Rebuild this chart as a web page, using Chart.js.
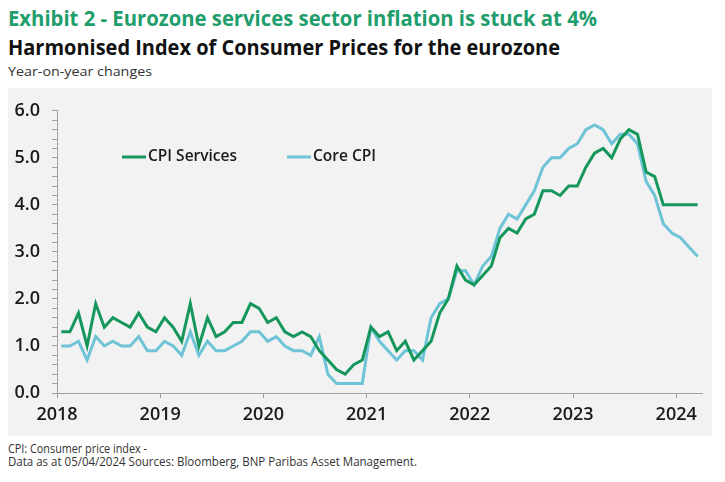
<!DOCTYPE html>
<html>
<head>
<meta charset="utf-8">
<script src="https://cdn.jsdelivr.net/npm/chart.js@4.4.1/dist/chart.umd.min.js"></script>
<style>
  html, body { margin: 0; padding: 0; background: #ffffff; }
  body { width: 725px; height: 482px; position: relative; overflow: hidden; font-family: "Open Sans", "Noto Sans", sans-serif; }
  .txt { position: absolute; left: 8px; white-space: nowrap; display: inline-block; transform-origin: 0 50%; }
  #t1 { top: 5px; font-size: 21px; line-height: 26px; font-weight: 700; color: #1f9d6c; }
  #t2 { top: 34px; font-size: 21px; line-height: 26px; font-weight: 700; color: #111111; }
  #t3 { top: 63px; font-size: 13px; line-height: 16px; color: #333333; }
  #f1 { top: 442px; font-size: 12.5px; line-height: 14px; color: #333333; }
  #f2 { top: 455px; font-size: 12.5px; line-height: 14px; color: #333333; }
  #panel { position: absolute; left: 8px; top: 88px; width: 704px; height: 348px; background: #f2f2f2; }
  #panel canvas { position: absolute; left: 0; top: 0; }
</style>
</head>
<body>
<div class="txt" id="t1" data-w="589">Exhibit 2 - Eurozone services sector inflation is stuck at 4%</div>
<div class="txt" id="t2" data-w="552">Harmonised Index of Consumer Prices for the eurozone</div>
<div class="txt" id="t3" data-w="144">Year-on-year changes</div>
<div id="panel"><canvas id="c" width="704" height="348"></canvas></div>
<div class="txt" id="f1" data-w="139">CPI: Consumer price index -</div>
<div class="txt" id="f2" data-w="409">Data as at 05/04/2024 Sources: Bloomberg, BNP Paribas Asset Management.</div>
<script>
// ---- Data (monthly, Jan 2018 - Mar 2024) ----
const months = [
  '2018-01','2018-02','2018-03','2018-04','2018-05','2018-06','2018-07','2018-08','2018-09','2018-10','2018-11','2018-12',
  '2019-01','2019-02','2019-03','2019-04','2019-05','2019-06','2019-07','2019-08','2019-09','2019-10','2019-11','2019-12',
  '2020-01','2020-02','2020-03','2020-04','2020-05','2020-06','2020-07','2020-08','2020-09','2020-10','2020-11','2020-12',
  '2021-01','2021-02','2021-03','2021-04','2021-05','2021-06','2021-07','2021-08','2021-09','2021-10','2021-11','2021-12',
  '2022-01','2022-02','2022-03','2022-04','2022-05','2022-06','2022-07','2022-08','2022-09','2022-10','2022-11','2022-12',
  '2023-01','2023-02','2023-03','2023-04','2023-05','2023-06','2023-07','2023-08','2023-09','2023-10','2023-11','2023-12',
  '2024-01','2024-02','2024-03'
];
const cpiServices = [
  1.3,1.3,1.7,1.0,1.9,1.4,1.6,1.5,1.4,1.7,1.4,1.3,
  1.6,1.4,1.1,1.9,1.0,1.6,1.2,1.3,1.5,1.5,1.9,1.8,
  1.5,1.6,1.3,1.2,1.3,1.2,0.9,0.7,0.5,0.4,0.6,0.7,
  1.4,1.2,1.3,0.9,1.1,0.7,0.9,1.1,1.7,2.0,2.7,2.4,
  2.3,2.5,2.7,3.3,3.5,3.4,3.7,3.8,4.3,4.3,4.2,4.4,
  4.4,4.8,5.1,5.2,5.0,5.4,5.6,5.5,4.7,4.6,4.0,4.0,
  4.0,4.0,4.0
];
const coreCpi = [
  1.0,1.0,1.1,0.7,1.2,1.0,1.1,1.0,1.0,1.2,0.9,0.9,
  1.1,1.0,0.8,1.3,0.8,1.1,0.9,0.9,1.0,1.1,1.3,1.3,
  1.1,1.2,1.0,0.9,0.9,0.8,1.2,0.4,0.2,0.2,0.2,0.2,
  1.4,1.1,0.9,0.7,0.9,0.9,0.7,1.6,1.9,2.0,2.6,2.6,
  2.3,2.7,2.9,3.5,3.8,3.7,4.0,4.3,4.8,5.0,5.0,5.2,
  5.3,5.6,5.7,5.6,5.3,5.5,5.5,5.3,4.5,4.2,3.6,3.4,
  3.3,3.1,2.9
];
const yearTicks = [2018, 2019, 2020, 2021, 2022, 2023, 2024];
const yLabelValues = [0, 1, 2, 3, 4, 5, 6];
const seriesNames = ['CPI Services', 'Core CPI'];

// ---- fit header/footer text widths ----
document.querySelectorAll('.txt').forEach(el => {
  const target = parseFloat(el.dataset.w);
  const w = el.getBoundingClientRect().width;
  if (w > 0) el.style.transform = 'scaleX(' + (target / w) + ')';
});

const GREEN = '#15975c';
const CYAN = '#6ec4d6';
const AXIS = '#a0a0a0';
const TICKFONT = { family: '"Open Sans", "Noto Sans", sans-serif', size: 18, weight: '600' };

function toX(label) {
  const [y, m] = label.split('-').map(Number);
  return y + (m - 0.5) / 12;
}
const ptsServices = months.map((mo, i) => ({ x: toX(mo), y: cpiServices[i] }));
const ptsCore = months.map((mo, i) => ({ x: toX(mo), y: coreCpi[i] }));

const legendPlugin = {
  id: 'insideLegend',
  afterDraw(chart) {
    const ctx = chart.ctx;
    const items = [
      { name: seriesNames[0], color: GREEN, x: 114 },
      { name: seriesNames[1], color: CYAN, x: 279 }
    ];
    const y = 69;
    ctx.save();
    ctx.font = '600 15.5px "Open Sans", "Noto Sans", sans-serif';
    ctx.textBaseline = 'middle';
    items.forEach(it => {
      ctx.strokeStyle = it.color;
      ctx.lineWidth = 3;
      ctx.beginPath();
      ctx.moveTo(it.x, y);
      ctx.lineTo(it.x + 24, y);
      ctx.stroke();
      ctx.fillStyle = '#1a1a1a';
      ctx.fillText(it.name, it.x + 26, y);
    });
    ctx.restore();
  }
};

new Chart(document.getElementById('c'), {
  type: 'line',
  data: {
    datasets: [
      { label: seriesNames[0], data: ptsServices, borderColor: GREEN, borderWidth: 3, pointRadius: 0, tension: 0, fill: false },
      { label: seriesNames[1], data: ptsCore, borderColor: CYAN, borderWidth: 3, pointRadius: 0, tension: 0, fill: false }
    ]
  },
  options: {
    responsive: false,
    animation: false,
    devicePixelRatio: 1,
    layout: { padding: { top: 21, right: 10, left: 0, bottom: 0 } },
    plugins: { legend: { display: false }, tooltip: { enabled: false }, title: { display: false } },
    scales: {
      x: {
        type: 'linear',
        min: 2018,
        max: 2024.25,
        afterBuildTicks(scale) { scale.ticks = yearTicks.map(v => ({ value: v })); },
        afterFit(scale) { scale.height = 43; },
        ticks: {
          autoSkip: false, maxRotation: 0, padding: 6, color: '#1a1a1a', font: TICKFONT,
          callback: v => String(v)
        },
        grid: { drawOnChartArea: false, drawTicks: true, tickLength: 5, color: AXIS },
        border: { color: AXIS, width: 1 }
      },
      y: {
        type: 'linear',
        min: 0,
        max: 6,
        afterBuildTicks(scale) {
          const t = [];
          for (let i = 0; i <= 30; i++) t.push({ value: i / 5 });
          scale.ticks = t;
        },
        afterFit(scale) { scale.width = 49; },
        ticks: {
          autoSkip: false, padding: 12, color: '#1a1a1a', font: TICKFONT,
          callback: v => {
            const r = Math.round(v);
            return (Math.abs(v - r) < 1e-6 && yLabelValues.includes(r)) ? r.toFixed(1) : '';
          }
        },
        grid: { drawOnChartArea: false, drawTicks: true, tickLength: 5, color: AXIS },
        border: { color: AXIS, width: 1 }
      }
    }
  },
  plugins: [legendPlugin]
});
</script>
</body>
</html>
